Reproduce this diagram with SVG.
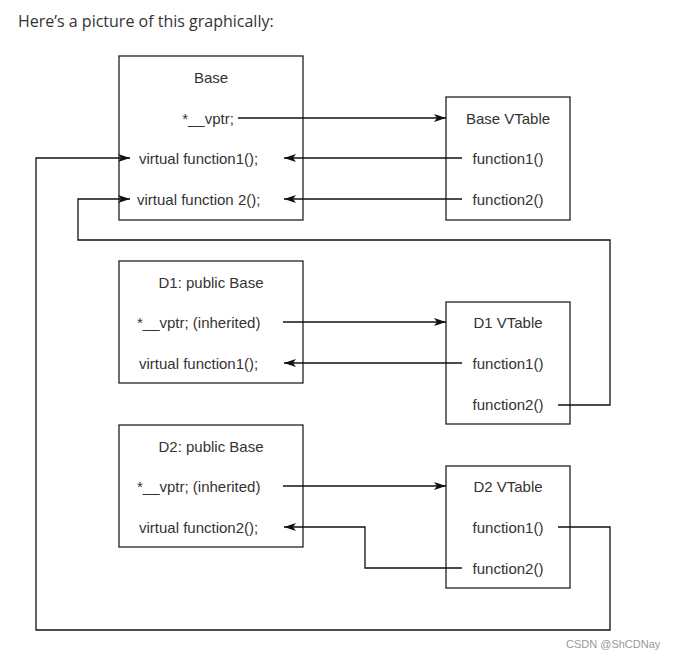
<svg xmlns="http://www.w3.org/2000/svg" width="683" height="660" viewBox="0 0 683 660">
<style>
.b{fill:#fff;stroke:#222;stroke-width:1.3}
text{font-family:"Liberation Sans",Arial,sans-serif;font-size:15px;fill:#333}
.c{text-anchor:middle}
.l{fill:none;stroke:#111;stroke-width:1.3}
</style>
<defs><marker id="a" viewBox="0 0 12 8" refX="12" refY="4" markerWidth="12" markerHeight="8" markerUnits="userSpaceOnUse" orient="auto"><path d="M0,0 L12,4 L0,8 L3,4 Z" fill="#111"/></marker></defs>
<rect width="683" height="660" fill="#fff"/>
<text x="18" y="27" style="font-family:'Open Sans',sans-serif;font-size:16px;fill:#333">Here’s a picture of this graphically:</text>
<g id="base"><rect class="b" x="119" y="56" width="184" height="164"/>
<text class="c" x="211" y="83">Base</text><text class="c" x="208" y="124">*__vptr;</text>
<text x="139" y="164">virtual function1();</text><text x="137" y="205">virtual function 2();</text></g>
<g id="basevt"><rect class="b" x="446" y="97" width="124" height="123"/>
<text class="c" x="508" y="124">Base VTable</text><text class="c" x="508" y="164">function1()</text><text class="c" x="508" y="205">function2()</text></g>
<g id="d1"><rect class="b" x="119" y="261" width="184" height="122"/>
<text class="c" x="211" y="288">D1: public Base</text><text x="137" y="328">*__vptr; (inherited)</text><text x="139" y="369">virtual function1();</text></g>
<g id="d1vt"><rect class="b" x="446" y="302" width="124" height="122"/>
<text class="c" x="508" y="328">D1 VTable</text><text class="c" x="508" y="369">function1()</text><text class="c" x="508" y="410">function2()</text></g>
<g id="d2"><rect class="b" x="119" y="425" width="184" height="122"/>
<text class="c" x="211" y="452">D2: public Base</text><text x="137" y="492">*__vptr; (inherited)</text><text x="139" y="533">virtual function2();</text></g>
<g id="d2vt"><rect class="b" x="446" y="466" width="124" height="122"/>
<text class="c" x="508" y="492">D2 VTable</text><text class="c" x="508" y="533">function1()</text><text class="c" x="508" y="574">function2()</text></g>
<g id="connectors">
<path class="l" d="M238,118 H446" marker-end="url(#a)"/>
<path class="l" d="M462,158 H284" marker-end="url(#a)"/>
<path class="l" d="M462,199 H284" marker-end="url(#a)"/>
<path class="l" d="M558,527 H610 V630 H36 V158 H130" marker-end="url(#a)"/>
<path class="l" d="M558,405 H610 V240 H78 V199 H130" marker-end="url(#a)"/>
<path class="l" d="M283,322 H446" marker-end="url(#a)"/>
<path class="l" d="M462,363 H284" marker-end="url(#a)"/>
<path class="l" d="M283,486 H446" marker-end="url(#a)"/>
<path class="l" d="M462,568 H365 V527 H284" marker-end="url(#a)"/>
</g>
<text x="566" y="648" style="font-size:11px;fill:#999">CSDN @ShCDNay</text>
</svg>
